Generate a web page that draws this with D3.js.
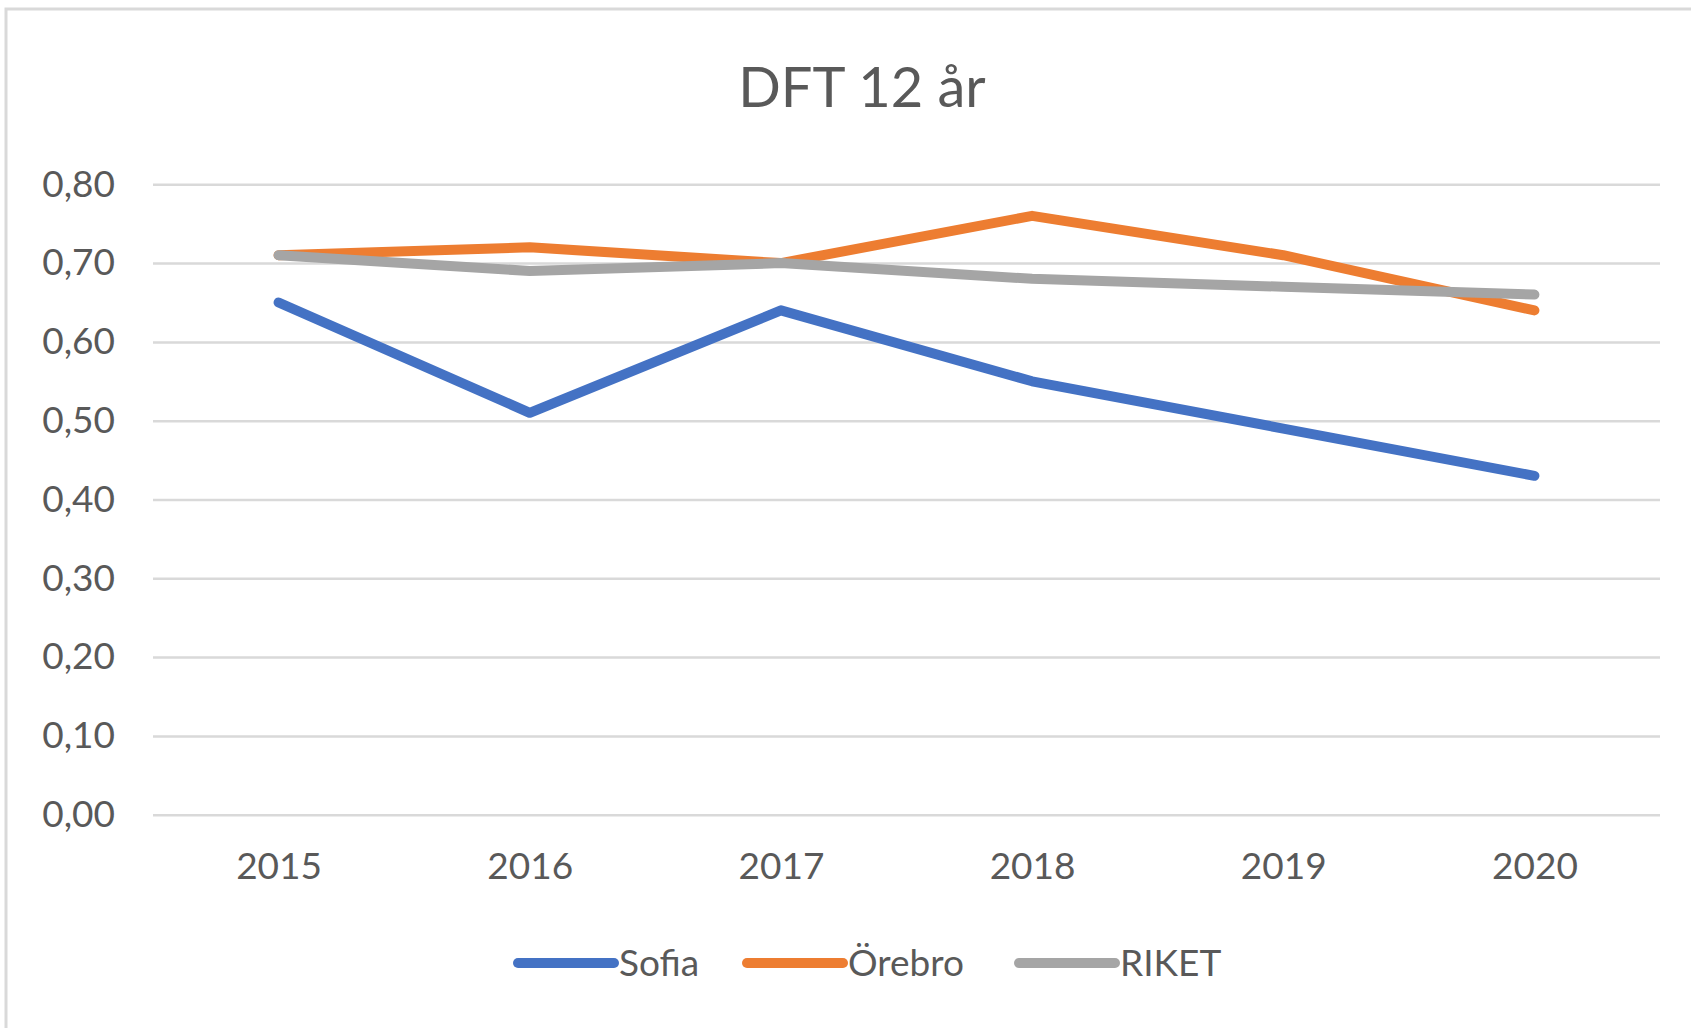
<!DOCTYPE html>
<html>
<head>
<meta charset="utf-8">
<script src="https://cdn.jsdelivr.net/npm/d3@7"></script>
<style>
	body{ margin:0; background:#fff; }
	svg{ display:block; font-family:Lato, "Open Sans", sans-serif; }
</style>
</head>
<body>
<svg id="chart" width="1691" height="1028"></svg>
<script>
'use strict'

var years = ['2015', '2016', '2017', '2018', '2019', '2020'];
var sofia = [0.65, 0.51, 0.64, 0.55, 0.49, 0.43];
var orebro = [0.71, 0.72, 0.70, 0.76, 0.71, 0.64];
var riket = [0.71, 0.69, 0.70, 0.68, 0.67, 0.66];
var yTicks = [0, 0.1, 0.2, 0.3, 0.4, 0.5, 0.6, 0.7, 0.8];

var series = [
	{ name: 'Sofia', values: sofia, color: '#4472C4' },
	{ name: 'Örebro', values: orebro, color: '#ED7D31' },
	{ name: 'RIKET', values: riket, color: '#A5A5A5' }
];

function drawChart(){
	var svg = d3.select('#chart');
	var left = 153, right = 1660, top = 184.3, bottom = 814.7;

	// outer frame, cut off at right and bottom like the screenshot
	svg.append('rect')
		.attr('x', 6).attr('y', 9)
		.attr('width', 1700).attr('height', 1040)
		.attr('fill', 'none')
		.attr('stroke', '#d9d9d9')
		.attr('stroke-width', 3);

	svg.append('text')
		.attr('x', 862).attr('y', 107)
		.attr('text-anchor', 'middle')
		.attr('font-size', 56)
		.attr('fill', '#595959')
		.text('DFT 12 år');

	var x = d3.scalePoint().domain(years).range([left, right]).padding(0.5);
	var y = d3.scaleLinear().domain([0, 0.8]).range([bottom, top]);

	var fmt = function(d){ return d3.format('.2f')(d).replace('.', ','); };

	var yAxis = svg.append('g')
		.attr('transform', `translate(${left},0)`)
		.call(d3.axisLeft(y).tickValues(yTicks).tickFormat(fmt).tickSize(-(right - left)).tickPadding(38));
	yAxis.select('.domain').remove();
	yAxis.selectAll('line').attr('stroke', '#d9d9d9').attr('stroke-width', 2.5);
	yAxis.selectAll('text')
		.attr('font-size', 37)
		.attr('fill', '#595959')
		.attr('font-family', 'Lato, sans-serif');

	var xAxis = svg.append('g')
		.attr('transform', `translate(0,${bottom})`)
		.call(d3.axisBottom(x).tickSize(0).tickPadding(38));
	xAxis.select('.domain').remove();
	xAxis.selectAll('text')
		.attr('font-size', 37)
		.attr('fill', '#595959')
		.attr('font-family', 'Lato, sans-serif')
		.attr('dy', '0.71em');

	var line = d3.line()
		.x(function(d, i){ return x(years[i]); })
		.y(function(d){ return y(d); });

	for(var s of series){
		svg.append('path')
			.attr('d', line(s.values))
			.attr('fill', 'none')
			.attr('stroke', s.color)
			.attr('stroke-width', 10)
			.attr('stroke-linecap', 'round')
			.attr('stroke-linejoin', 'round');
	}

	// legend
	var legendX = [518, 747, 1019];
	var legend = svg.append('g');
	series.forEach(function(s, i){
		var g = legend.append('g').attr('transform', `translate(${legendX[i]},963)`);
		g.append('line')
			.attr('x1', 0).attr('x2', 96)
			.attr('stroke', s.color)
			.attr('stroke-width', 10)
			.attr('stroke-linecap', 'round');
		g.append('text')
			.attr('x', 101).attr('y', 13)
			.attr('font-size', 37)
			.attr('fill', '#595959')
			.text(s.name);
	});
}

drawChart();
</script>
</body>
</html>
